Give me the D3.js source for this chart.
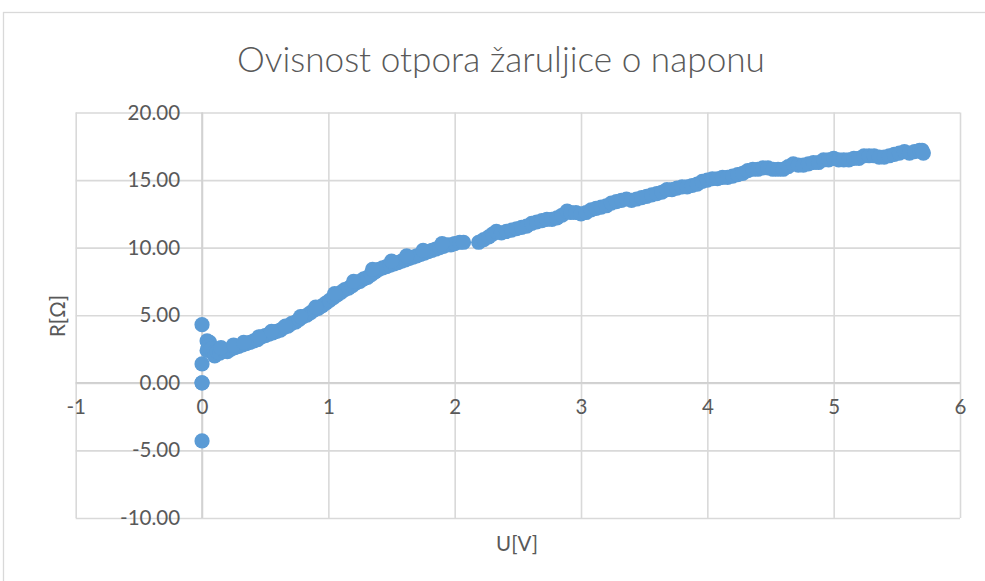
<!DOCTYPE html>
<html>
<head>
<meta charset="utf-8">
<script src="https://cdn.jsdelivr.net/npm/d3@7"></script>
<style>
  html, body { margin: 0; padding: 0; background: #fff; }
  svg { display: block; }
  text { font-family: Lato, "Open Sans", sans-serif; fill: #595959; }
</style>
</head>
<body>
<svg id="chart" width="985" height="581"></svg>
<script>
const title = "Ovisnost otpora žaruljice o naponu";
const xTitle = "U[V]";
const yTitle = "R[Ω]";
const xTicks = [-1, 0, 1, 2, 3, 4, 5, 6];
const yTicks = [-10, -5, 0, 5, 10, 15, 20];

const U = [0, 0, 0, 0, 0,
  0.04, 0.06, 0.05, 0.04, 0.07, 0.09, 0.10, 0.12, 0.14, 0.17, 0.20, 0.23, 0.26, 0.29, 0.32,
  0.35, 0.38, 0.41, 0.44, 0.47, 0.50, 0.53, 0.56, 0.59, 0.62, 0.65, 0.68, 0.71, 0.74, 0.77,
  0.80, 0.83, 0.86, 0.89, 0.92, 0.95, 0.98, 1.01, 1.04, 1.07, 1.10, 1.13, 1.16, 1.19, 1.22,
  1.25, 1.28, 1.31, 1.34, 1.37, 1.40, 1.43, 1.46, 1.49, 1.52, 1.55, 1.58, 1.61, 1.64, 1.67,
  1.70, 1.73, 1.76, 1.79, 1.82, 1.85, 1.88, 1.91, 1.94, 1.97, 2.00, 2.04, 2.07,
  2.19, 2.23, 2.27, 2.30, 2.33, 2.37, 2.41, 2.45, 2.49, 2.53, 2.57, 2.61, 2.65, 2.69, 2.73,
  2.77, 2.81, 2.85, 2.89, 2.92, 2.96, 3.00, 3.04, 3.08, 3.12, 3.16, 3.20, 3.24, 3.28, 3.32,
  3.36, 3.40, 3.44, 3.48, 3.52, 3.56, 3.60, 3.64, 3.68, 3.72, 3.76, 3.80, 3.84, 3.88, 3.92,
  3.96, 4.00, 4.04, 4.08, 4.12, 4.16, 4.20, 4.24, 4.28, 4.32, 4.36, 4.40, 4.44, 4.48, 4.52,
  4.56, 4.60, 4.64, 4.68, 4.72, 4.76, 4.80, 4.84, 4.88, 4.92, 4.96, 5.00, 5.04, 5.08, 5.12,
  5.16, 5.20, 5.24, 5.28, 5.32, 5.36, 5.40, 5.44, 5.48, 5.52, 5.56, 5.60, 5.64, 5.68, 5.70, 5.71,
  0.15, 0.25, 0.33, 0.45, 0.55, 0.66, 0.78, 0.9, 1.05, 1.2, 1.35, 1.5, 1.62, 1.75, 1.9];
const R = [4.3, 1.4, 0, 0, -4.3,
  3.1, 3.0, 2.7, 2.4, 2.5, 2.2, 2.0, 2.3, 2.2, 2.4, 2.3, 2.5, 2.6, 2.7, 2.8,
  2.9, 3.0, 3.1, 3.2, 3.4, 3.5, 3.6, 3.7, 3.8, 3.9, 4.1, 4.2, 4.4, 4.5, 4.7,
  4.9, 5.0, 5.2, 5.4, 5.5, 5.7, 5.9, 6.1, 6.3, 6.5, 6.7, 6.9, 7.0, 7.2, 7.4,
  7.5, 7.7, 7.8, 8.0, 8.2, 8.4, 8.5, 8.6, 8.7, 8.8, 8.9, 9.0, 9.1, 9.2, 9.3,
  9.4, 9.5, 9.6, 9.7, 9.8, 9.9, 10.0, 10.1, 10.2, 10.2, 10.3, 10.4, 10.4,
  10.4, 10.6, 10.8, 11.0, 11.2, 11.1, 11.2, 11.3, 11.4, 11.5, 11.6, 11.8, 11.9, 12.0, 12.1,
  12.1, 12.2, 12.4, 12.7, 12.6, 12.6, 12.5, 12.6, 12.8, 12.9, 13.0, 13.1, 13.3, 13.4, 13.5,
  13.6, 13.5, 13.6, 13.7, 13.8, 13.9, 14.0, 14.1, 14.3, 14.3, 14.4, 14.5, 14.5, 14.6, 14.7,
  14.9, 15.0, 15.1, 15.1, 15.2, 15.2, 15.3, 15.4, 15.5, 15.7, 15.8, 15.8, 15.9, 15.9, 15.8,
  15.8, 15.8, 16.0, 16.2, 16.1, 16.1, 16.2, 16.3, 16.3, 16.5, 16.5, 16.6, 16.5, 16.5, 16.5,
  16.6, 16.6, 16.8, 16.8, 16.8, 16.7, 16.7, 16.8, 16.9, 17.0, 17.1, 17.0, 17.1, 17.2, 17.2, 17.0,
  2.6, 2.8, 3.0, 3.4, 3.8, 4.2, 4.9, 5.6, 6.6, 7.5, 8.4, 9.0, 9.4, 9.8, 10.3];

const data = U.map((u, i) => ({u, r: R[i]}));

const svg = d3.select("#chart");
const grid = "#d9d9d9";

// chart area border
svg.append("rect").attr("x", 3.5).attr("y", 12.5).attr("width", 1000).attr("height", 600)
  .attr("fill", "#fff").attr("stroke", grid).attr("stroke-width", 1.3);

const plot = {left: 75.7, right: 960, top: 112.5, bottom: 518};
const x = d3.scaleLinear().domain([-1, 6]).range([plot.left, plot.right]);
const y = d3.scaleLinear().domain([-10, 20]).range([plot.bottom, plot.top]);

// gridlines
const gx = svg.append("g").attr("transform", `translate(0,${plot.bottom})`)
  .call(d3.axisBottom(x).tickValues(xTicks).tickSize(-(plot.bottom - plot.top)).tickFormat(""));
const gy = svg.append("g").attr("transform", `translate(${plot.left},0)`)
  .call(d3.axisLeft(y).tickValues(yTicks).tickSize(-(plot.right - plot.left)).tickFormat(""));
[gx, gy].forEach(g => {
  g.select(".domain").remove();
  g.selectAll(".tick line").attr("stroke", grid).attr("stroke-width", 1.6);
});

// axis lines at zero
svg.append("line").attr("x1", plot.left).attr("x2", plot.right)
  .attr("y1", y(0)).attr("y2", y(0)).attr("stroke", "#d0d0d0").attr("stroke-width", 1.6);
svg.append("line").attr("x1", x(0)).attr("x2", x(0))
  .attr("y1", plot.top).attr("y2", plot.bottom).attr("stroke", "#d0d0d0").attr("stroke-width", 1.6);

// tick labels along the zero axes
const xl = svg.append("g").attr("transform", `translate(0,${y(0) + 34})`)
  .call(d3.axisBottom(x).tickValues(xTicks).tickSize(0).tickPadding(0).tickFormat(d => String(d)));
xl.select(".domain").remove();
xl.selectAll("text").attr("font-size", 20.5).attr("dy", "-0.15em").style("fill", "#595959")
  .style("font-family", "Lato, 'Open Sans', sans-serif");

const yl = svg.append("g").attr("transform", `translate(${x(0) - 22},0)`)
  .call(d3.axisLeft(y).tickValues(yTicks).tickSize(0).tickPadding(0).tickFormat(d => d.toFixed(2)));
yl.select(".domain").remove();
yl.selectAll("text").attr("font-size", 20.5).style("fill", "#595959")
  .style("font-family", "Lato, 'Open Sans', sans-serif");

// points
svg.append("g").selectAll("circle").data(data).join("circle")
  .attr("cx", d => x(d.u)).attr("cy", d => y(d.r)).attr("r", 7.6)
  .attr("fill", "#5B9BD5");

// titles
const t = svg.append("text").attr("x", 501).attr("y", 58).attr("text-anchor", "middle")
  .attr("dominant-baseline", "central").attr("font-size", 32).attr("font-weight", 300).text(title);
const w = t.node().getComputedTextLength();
t.attr("font-size", 32 * 528 / w);

svg.append("text").attr("x", 517).attr("y", 543).attr("text-anchor", "middle")
  .attr("dominant-baseline", "central").attr("font-size", 20.5).text(xTitle);
svg.append("text").attr("transform", "translate(57,316) rotate(-90)").attr("text-anchor", "middle")
  .attr("dominant-baseline", "central").attr("font-size", 20.5).text(yTitle);
</script>
</body>
</html>
